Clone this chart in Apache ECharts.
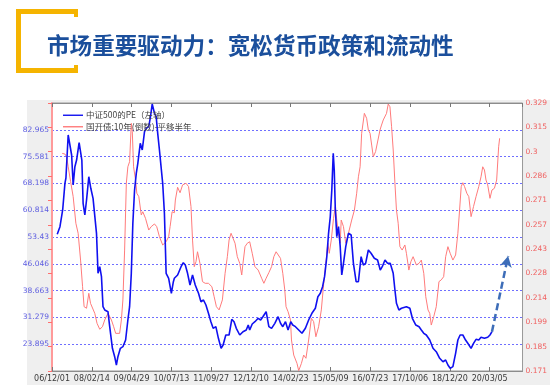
<!DOCTYPE html>
<html><head><meta charset="utf-8">
<script src="https://cdn.jsdelivr.net/npm/echarts@6/dist/echarts.min.js"></script>
<style>html,body{margin:0;padding:0;background:#fff}#c{width:550px;height:385px}</style>
</head><body><div id="c"></div>
<script>
const titleText = '市场重要驱动力：宽松货币政策和流动性';
const seriesNames = ['中证500的PE（左轴）', '国开债:10年(倒数)-平移半年'];
// x axis: days since 2006-12-01, tick every 440 days
const xTicks = ['06/12/01','08/02/14','09/04/29','10/07/13','11/09/27','12/12/10','14/02/23','15/05/09','16/07/23','17/10/06','18/12/20','20/03/05'];
const leftTicks = ['23.895','31.279','38.663','46.046','53.43','60.814','68.198','75.581','82.965'];
const rightTicks = ['0.171','0.185','0.199','0.214','0.228','0.243','0.257','0.271','0.286','0.3','0.315','0.329'];

const blueDay = [58,88,118,143,154,179,190,217,234,253,272,300,316,330,344,363,382,407,429,454,473,492,509,528,547,564,583,619,638,668,693,712,729,756,784,814,839,858,877,894,913,932,949,976,998,1023,1042,1070,1089,1108,1133,1152,1169,1188,1224,1243,1262,1290,1320,1342,1353,1389,1427,1452,1474,1499,1526,1554,1584,1620,1647,1675,1702,1730,1757,1782,1812,1840,1870,1892,1922,1958,1988,2013,2038,2076,2112,2148,2170,2186,2214,2244,2280,2307,2332,2368,2398,2428,2464,2500,2527,2552,2582,2610,2640,2662,2692,2728,2764,2802,2838,2874,2912,2940,2967,2992,3014,3039,3058,3077,3094,3110,3121,3132,3149,3168,3187,3204,3223,3248,3278,3308,3333,3363,3388,3418,3443,3468,3498,3528,3564,3600,3630,3652,3682,3710,3740,3773,3792,3809,3836,3864,3919,3957,3985,4023,4059,4084,4111,4139,4177,4213,4249,4287,4323,4353,4378,4403,4433,4463,4488,4513,4543,4573,4598,4634,4661,4689,4719,4744,4782,4818,4843,4865];
const blueVal = [54.17,56.27,60.87,68.22,69.69,81.53,81.06,76.02,67.76,72.80,74.64,79.41,79.69,74.64,62.71,59.49,63.62,70.04,66.85,64.09,63.62,54.45,43.43,45.25,42.49,34.23,33.32,32.85,28.72,22.76,20.45,18.16,20.45,22.76,23.21,25.05,30.56,34.23,43.43,57.20,66.38,70.98,73.74,79.25,77.40,82.44,83.38,83.82,86.57,90.07,87.51,86.57,82.00,77.40,68.22,59.96,43.43,42.05,37.92,41.11,42.05,42.96,45.25,46.35,45.72,43.43,40.20,42.96,40.20,37.92,35.60,36.07,34.69,32.41,30.09,28.27,28.72,25.52,22.76,23.67,26.43,26.43,30.75,30.09,28.27,26.43,27.34,27.81,29.18,27.81,29.46,30.09,31.03,30.56,31.47,32.85,28.72,28.27,29.65,31.47,29.65,28.72,30.09,27.81,30.09,29.18,28.72,27.81,26.90,28.27,30.56,32.41,33.79,36.98,37.92,39.74,42.49,48.00,54.45,59.02,66.38,76.49,71.89,61.78,53.51,56.27,50.76,42.96,46.18,50.76,54.45,53.98,46.18,41.11,41.11,48.00,45.72,46.18,49.85,48.94,47.56,47.09,44.34,45.25,47.09,46.18,46.18,43.43,38.83,35.16,33.32,33.79,34.23,33.79,31.03,29.18,28.72,27.81,26.90,26.43,25.05,22.76,21.83,20.01,19.07,19.54,18.16,17.25,17.70,21.39,25.05,26.43,26.43,25.05,24.14,22.76,24.14,25.24,25.05,25.80,25.52,25.80,26.43,27.34];

const redDay = [113,143,162,179,206,234,264,289,316,338,355,382,407,426,448,473,498,528,558,583,619,657,682,704,748,767,784,803,822,839,858,877,888,902,924,938,960,987,1004,1034,1070,1097,1133,1158,1188,1224,1262,1290,1306,1328,1353,1364,1389,1416,1444,1482,1510,1537,1554,1573,1592,1609,1636,1664,1694,1730,1768,1793,1818,1848,1867,1884,1914,1939,1958,1980,2002,2024,2049,2076,2098,2112,2134,2159,2186,2214,2244,2280,2318,2343,2368,2398,2428,2453,2478,2500,2527,2552,2574,2588,2610,2637,2648,2673,2709,2728,2758,2783,2808,2838,2868,2893,2918,2948,2978,3003,3028,3050,3066,3088,3113,3132,3149,3168,3187,3198,3223,3248,3278,3314,3344,3369,3388,3407,3424,3454,3479,3498,3517,3535,3553,3578,3600,3627,3644,3663,3682,3699,3718,3737,3755,3773,3792,3809,3828,3847,3872,3902,3919,3946,3968,3993,4029,4059,4084,4111,4133,4158,4177,4194,4221,4249,4279,4304,4331,4353,4378,4403,4433,4463,4488,4507,4525,4543,4562,4587,4609,4634,4661,4689,4719,4744,4763,4782,4799,4818,4843,4865,4892,4917,4939,4950];
const redVal = [0.2993,0.2989,0.2973,0.2914,0.2826,0.2738,0.2581,0.2522,0.2364,0.2207,0.2089,0.2080,0.2168,0.2109,0.2119,0.2050,0.1991,0.1956,0.1971,0.2011,0.2050,0.2011,0.1971,0.1932,0.1932,0.2011,0.2129,0.2423,0.2817,0.2914,0.2944,0.3170,0.3121,0.2914,0.2836,0.2758,0.2738,0.2630,0.2649,0.2610,0.2541,0.2561,0.2577,0.2561,0.2502,0.2453,0.2472,0.2502,0.2561,0.2649,0.2643,0.2718,0.2793,0.2761,0.2807,0.2817,0.2797,0.2679,0.2482,0.2325,0.2354,0.2413,0.2345,0.2237,0.2227,0.2227,0.2207,0.2148,0.2089,0.2070,0.2066,0.2129,0.2286,0.2384,0.2482,0.2522,0.2531,0.2463,0.2384,0.2345,0.2276,0.2345,0.2443,0.2463,0.2472,0.2404,0.2325,0.2305,0.2257,0.2227,0.2257,0.2290,0.2325,0.2384,0.2413,0.2423,0.2374,0.2286,0.2188,0.2089,0.2060,0.2011,0.1893,0.1804,0.1755,0.1712,0.1755,0.1804,0.1785,0.1893,0.2021,0.2001,0.1912,0.1971,0.2070,0.2217,0.2345,0.2463,0.2404,0.2482,0.2610,0.2679,0.2600,0.2522,0.2463,0.2600,0.2561,0.2463,0.2522,0.2600,0.2659,0.2758,0.2855,0.2914,0.3111,0.3229,0.3200,0.3131,0.3111,0.3042,0.2973,0.3003,0.3013,0.3131,0.3160,0.3190,0.3180,0.3229,0.3284,0.3268,0.3150,0.3013,0.2817,0.2659,0.2581,0.2443,0.2423,0.2453,0.2404,0.2305,0.2354,0.2384,0.2335,0.2345,0.2364,0.2286,0.2148,0.2070,0.2050,0.1981,0.2030,0.2089,0.2237,0.2247,0.2266,0.2384,0.2443,0.2404,0.2364,0.2394,0.2522,0.2659,0.2797,0.2820,0.2797,0.2758,0.2738,0.2620,0.2679,0.2738,0.2797,0.2855,0.2914,0.2895,0.2836,0.2807,0.2728,0.2777,0.2787,0.2836,0.3032,0.3082];

// expected-trend arrow (annotation, left-axis units)
const forecastDay = [4865, 5044];
const forecastVal = [27.34, 48.2];

const X_STEP = 440, X_MAX = 5203;
const L_MIN = 16.511, L_MAX = 90.349, L_STEP = 7.38375;
const R_MIN = 0.171, R_MAX = 0.329, R_STEP = (0.329 - 0.171) / 11;

const chart = echarts.init(document.getElementById('c'), null, {renderer: 'canvas'});
const YEL = '#f5b400';
const option = {
  animation: false,
  backgroundColor: '#ffffff',
  textStyle: {fontFamily: 'DejaVu Sans'},
  graphic: [
    {type: 'rect', z: -10, shape: {x: 27, y: 100, width: 523, height: 285}, style: {fill: '#efefef'}},
    {type: 'rect', shape: {x: 16, y: 9, width: 5, height: 64}, style: {fill: YEL}},
    {type: 'rect', shape: {x: 16, y: 9, width: 62, height: 5}, style: {fill: YEL}},
    {type: 'rect', shape: {x: 16, y: 68, width: 62, height: 5}, style: {fill: YEL}},
    {type: 'rect', shape: {x: 74, y: 9, width: 4, height: 8}, style: {fill: YEL}},
    {type: 'rect', shape: {x: 74, y: 65, width: 4, height: 8}, style: {fill: YEL}},
    {type: 'text', left: 47, top: 34, style: {text: titleText, fill: '#1b4f9c', font: 'bold 22.6px "Noto Sans CJK SC"'}}
  ],
  grid: {left: 52, right: 25, top: 103, bottom: 14, show: true, backgroundColor: '#ffffff', borderColor: '#999', borderWidth: 1},
  legend: {
    orient: 'vertical', left: 58, top: 106, itemGap: 3, itemWidth: 20, itemHeight: 6, icon: 'path://M0,2.3 L20,2.3 L20,3.7 L0,3.7 Z',
    data: seriesNames,
    textStyle: {fontSize: 8.5, color: '#444', fontFamily: 'Noto Sans CJK SC', padding: [0, 0, 0, -2]}
  },
  xAxis: [
    {type: 'value', min: 0, max: X_MAX, interval: X_STEP, position: 'bottom',
     axisLine: {show: true, lineStyle: {color: '#8c8c8c', width: 1}},
     axisTick: {show: true, inside: true, length: 4, lineStyle: {color: '#777'}},
     axisLabel: {fontSize: 8, color: '#3a3a3a', margin: 4, showMaxLabel: false,
       formatter: v => { const i = Math.round(v / X_STEP); return (Math.abs(v - i * X_STEP) < 1 && xTicks[i]) ? xTicks[i] : ''; }},
     splitLine: {show: false}},
    {type: 'value', min: 0, max: X_MAX, interval: X_STEP, position: 'top',
     axisLine: {show: true, lineStyle: {color: '#8c8c8c'}},
     axisTick: {show: true, inside: true, length: 4, lineStyle: {color: '#777'}},
     axisLabel: {show: false}, splitLine: {show: false}}
  ],
  yAxis: [
    {type: 'value', min: L_MIN, max: L_MAX, interval: L_STEP, position: 'left',
     axisLine: {show: true, lineStyle: {color: '#a0a0ff', width: 1.5}},
     axisTick: {show: false},
     axisLabel: {fontSize: 7.5, color: '#5d5de0', margin: 3,
       formatter: v => { const i = Math.round((v - L_MIN) / L_STEP); return (i >= 1 && i <= 9) ? leftTicks[i - 1] : ''; }},
     splitLine: {show: true, lineStyle: {color: '#6f6fff', type: [2, 2], width: 1}}},
    {type: 'value', min: R_MIN, max: R_MAX, interval: R_STEP, position: 'right',
     axisLine: {show: true, lineStyle: {color: '#ff9a9a', width: 2}},
     axisTick: {show: true, inside: true, length: 4, lineStyle: {color: '#ff6f6f', width: 1}},
     axisLabel: {fontSize: 7.5, color: '#f06060', margin: 3,
       formatter: v => { const i = Math.round((v - R_MIN) / R_STEP); return rightTicks[i] || ''; }},
     splitLine: {show: false}}
  ],
  series: [
    {name: seriesNames[1], type: 'line', yAxisIndex: 1, symbol: 'none', z: 2,
     lineStyle: {color: '#ff7b7b', width: 1}, itemStyle: {color: '#ff7b7b'},
     data: redDay.map((d, i) => [d, redVal[i]])},
    {name: seriesNames[0], type: 'line', yAxisIndex: 0, symbol: 'none', z: 3,
     lineStyle: {color: '#1010f0', width: 1.6}, itemStyle: {color: '#1010f0'},
     data: blueDay.map((d, i) => [d, blueVal[i]])},
    {name: 'forecast', type: 'line', yAxisIndex: 0, symbol: 'none', z: 4,
     lineStyle: {opacity: 0}, data: forecastDay.map((d, i) => [d, forecastVal[i]]),
     markLine: {silent: true, symbol: ['none', 'arrow'], symbolSize: [9, 11], label: {show: false},
       lineStyle: {color: '#3d6db8', width: 2.5, type: [7, 4]},
       data: [[{coord: [forecastDay[0], forecastVal[0]]}, {coord: [forecastDay[1], forecastVal[1]]}]]}}
  ]
};
chart.setOption(option);
</script></body></html>
